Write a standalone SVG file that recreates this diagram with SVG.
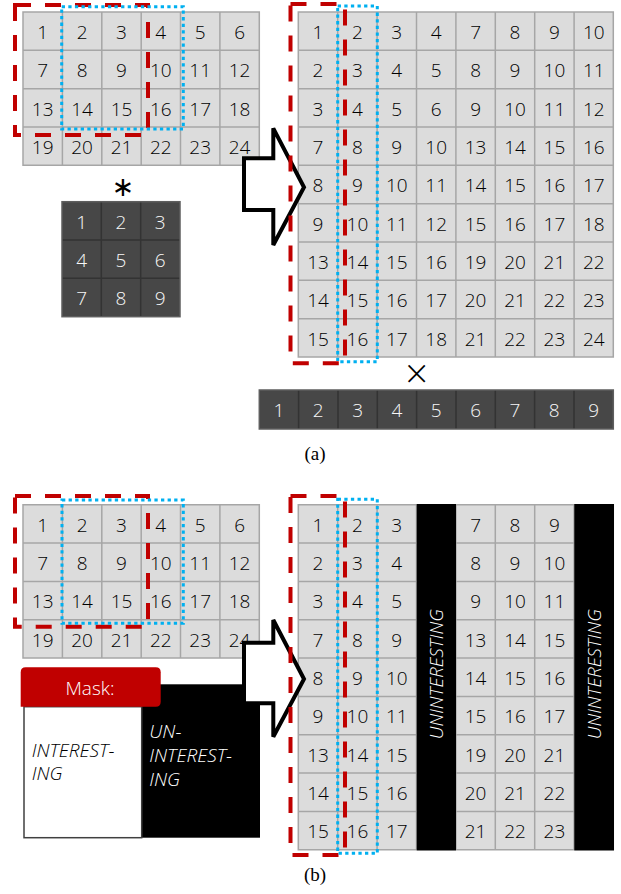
<svg xmlns="http://www.w3.org/2000/svg" width="621" height="894" viewBox="0 0 621 894">
<style>
.cell{fill:#dcdcdc}
.gl{fill:none;stroke:#a6a6a6;stroke-width:1.5}
.dk{fill:#474747}
.dl{fill:none;stroke:#333;stroke-width:1.5}
.do{fill:none;stroke:#5e5e5e;stroke-width:1.5}
.t{font-family:"Open Sans","Noto Sans",sans-serif;font-size:19px;font-weight:300;fill:#000;text-anchor:middle}
.tw{fill:#f7f7f7}
.it{font-family:"Open Sans","Noto Sans",sans-serif;font-size:19px;font-weight:300;font-style:italic}
.red{fill:none;stroke:#c00000;stroke-width:4;stroke-dasharray:16 14}
.blue{fill:none;stroke:#00b0f0;stroke-width:3;stroke-dasharray:3.3 3.3}
.arrow{fill:#fff;stroke:#000;stroke-width:4;stroke-linejoin:miter}
.lbl{font-family:"Liberation Serif","Times New Roman",serif;font-size:19px;fill:#000;text-anchor:middle}
</style>

<!-- ============ (a) ============ -->
<g id="a-input">
<rect class="cell" x="23" y="12" width="236.3" height="153.3"/>
<path class="gl" d="M23,12H259.3V165.3H23Z M62.4,12V165.3 M101.8,12V165.3 M141.2,12V165.3 M180.5,12V165.3 M219.9,12V165.3 M23,50.3H259.3 M23,88.7H259.3 M23,127H259.3"/>
<g class="t">
<text x="42.7" y="39">1</text><text x="82.1" y="39">2</text><text x="121.5" y="39">3</text><text x="160.8" y="39">4</text><text x="200.2" y="39">5</text><text x="239.6" y="39">6</text>
<text x="42.7" y="77.3">7</text><text x="82.1" y="77.3">8</text><text x="121.5" y="77.3">9</text><text x="160.8" y="77.3">10</text><text x="200.2" y="77.3">11</text><text x="239.6" y="77.3">12</text>
<text x="42.7" y="115.7">13</text><text x="82.1" y="115.7">14</text><text x="121.5" y="115.7">15</text><text x="160.8" y="115.7">16</text><text x="200.2" y="115.7">17</text><text x="239.6" y="115.7">18</text>
<text x="42.7" y="154">19</text><text x="82.1" y="154">20</text><text x="121.5" y="154">21</text><text x="160.8" y="154">22</text><text x="200.2" y="154">23</text><text x="239.6" y="154">24</text>
</g>
</g>

<g id="a-star">
<text x="123" y="195.5" style="font-family:'DejaVu Sans',sans-serif;font-size:27px;fill:#000;text-anchor:middle">∗</text>
</g>

<g id="a-kernel">
<rect class="dk" x="62" y="201.7" width="118" height="115"/>
<path class="dl" d="M101.3,201.7V316.7 M140.7,201.7V316.7 M62,240H180 M62,278.3H180"/>
<rect class="do" x="62" y="201.7" width="118" height="115"/>
<g class="t tw">
<text x="81.7" y="228.5">1</text><text x="121" y="228.5">2</text><text x="160.3" y="228.5">3</text>
<text x="81.7" y="266.8">4</text><text x="121" y="266.8">5</text><text x="160.3" y="266.8">6</text>
<text x="81.7" y="305.2">7</text><text x="121" y="305.2">8</text><text x="160.3" y="305.2">9</text>
</g>
</g>

<g id="a-matrix">
<rect class="cell" x="298.3" y="12" width="315" height="345"/>
<path class="gl" d="M298.3,12H613.3V357H298.3Z M337.7,12V357 M377.1,12V357 M416.5,12V357 M455.9,12V357 M495.3,12V357 M534.7,12V357 M574.1,12V357 M298.3,50.3H613.3 M298.3,88.7H613.3 M298.3,127H613.3 M298.3,165.3H613.3 M298.3,203.7H613.3 M298.3,242H613.3 M298.3,280.3H613.3 M298.3,318.7H613.3"/>
<g class="t">
<text x="318" y="39">1</text><text x="357.4" y="39">2</text><text x="396.8" y="39">3</text><text x="436.2" y="39">4</text><text x="475.6" y="39">7</text><text x="515" y="39">8</text><text x="554.4" y="39">9</text><text x="593.8" y="39">10</text>
<text x="318" y="77.3">2</text><text x="357.4" y="77.3">3</text><text x="396.8" y="77.3">4</text><text x="436.2" y="77.3">5</text><text x="475.6" y="77.3">8</text><text x="515" y="77.3">9</text><text x="554.4" y="77.3">10</text><text x="593.8" y="77.3">11</text>
<text x="318" y="115.7">3</text><text x="357.4" y="115.7">4</text><text x="396.8" y="115.7">5</text><text x="436.2" y="115.7">6</text><text x="475.6" y="115.7">9</text><text x="515" y="115.7">10</text><text x="554.4" y="115.7">11</text><text x="593.8" y="115.7">12</text>
<text x="318" y="154">7</text><text x="357.4" y="154">8</text><text x="396.8" y="154">9</text><text x="436.2" y="154">10</text><text x="475.6" y="154">13</text><text x="515" y="154">14</text><text x="554.4" y="154">15</text><text x="593.8" y="154">16</text>
<text x="318" y="192.3">8</text><text x="357.4" y="192.3">9</text><text x="396.8" y="192.3">10</text><text x="436.2" y="192.3">11</text><text x="475.6" y="192.3">14</text><text x="515" y="192.3">15</text><text x="554.4" y="192.3">16</text><text x="593.8" y="192.3">17</text>
<text x="318" y="230.7">9</text><text x="357.4" y="230.7">10</text><text x="396.8" y="230.7">11</text><text x="436.2" y="230.7">12</text><text x="475.6" y="230.7">15</text><text x="515" y="230.7">16</text><text x="554.4" y="230.7">17</text><text x="593.8" y="230.7">18</text>
<text x="318" y="269">13</text><text x="357.4" y="269">14</text><text x="396.8" y="269">15</text><text x="436.2" y="269">16</text><text x="475.6" y="269">19</text><text x="515" y="269">20</text><text x="554.4" y="269">21</text><text x="593.8" y="269">22</text>
<text x="318" y="307.3">14</text><text x="357.4" y="307.3">15</text><text x="396.8" y="307.3">16</text><text x="436.2" y="307.3">17</text><text x="475.6" y="307.3">20</text><text x="515" y="307.3">21</text><text x="554.4" y="307.3">22</text><text x="593.8" y="307.3">23</text>
<text x="318" y="345.7">15</text><text x="357.4" y="345.7">16</text><text x="396.8" y="345.7">17</text><text x="436.2" y="345.7">18</text><text x="475.6" y="345.7">21</text><text x="515" y="345.7">22</text><text x="554.4" y="345.7">23</text><text x="593.8" y="345.7">24</text>
</g>
</g>

<g id="a-times">
<text class="t" x="416.7" y="388" style="font-size:40px;fill:#000">×</text>
</g>

<g id="a-kernel-row">
<rect class="dk" x="259.3" y="390" width="354" height="39"/>
<path class="dl" d="M298.6,390V429 M338,390V429 M377.3,390V429 M416.6,390V429 M456,390V429 M495.3,390V429 M534.6,390V429 M574,390V429"/>
<rect class="do" x="259.3" y="390" width="354" height="39"/>
<g class="t tw">
<text x="279" y="416.7">1</text><text x="318.3" y="416.7">2</text><text x="357.6" y="416.7">3</text><text x="397" y="416.7">4</text><text x="436.3" y="416.7">5</text><text x="475.6" y="416.7">6</text><text x="515" y="416.7">7</text><text x="554.3" y="416.7">8</text><text x="593.6" y="416.7">9</text>
</g>
</g>

<g id="a-label"><text class="lbl" x="315" y="459.5">(a)</text></g>

<!-- ============ (b) ============ -->
<g id="b-input" transform="translate(0,492.7)">
<rect class="cell" x="23" y="12" width="236.3" height="153.3"/>
<path class="gl" d="M23,12H259.3V165.3H23Z M62.4,12V165.3 M101.8,12V165.3 M141.2,12V165.3 M180.5,12V165.3 M219.9,12V165.3 M23,50.3H259.3 M23,88.7H259.3 M23,127H259.3"/>
<g class="t">
<text x="42.7" y="39">1</text><text x="82.1" y="39">2</text><text x="121.5" y="39">3</text><text x="160.8" y="39">4</text><text x="200.2" y="39">5</text><text x="239.6" y="39">6</text>
<text x="42.7" y="77.3">7</text><text x="82.1" y="77.3">8</text><text x="121.5" y="77.3">9</text><text x="160.8" y="77.3">10</text><text x="200.2" y="77.3">11</text><text x="239.6" y="77.3">12</text>
<text x="42.7" y="115.7">13</text><text x="82.1" y="115.7">14</text><text x="121.5" y="115.7">15</text><text x="160.8" y="115.7">16</text><text x="200.2" y="115.7">17</text><text x="239.6" y="115.7">18</text>
<text x="42.7" y="154">19</text><text x="82.1" y="154">20</text><text x="121.5" y="154">21</text><text x="160.8" y="154">22</text><text x="200.2" y="154">23</text><text x="239.6" y="154">24</text>
</g>
</g>

<g id="b-matrix" transform="translate(0,492.7)">
<rect class="cell" x="298.3" y="12" width="315" height="345"/>
<path class="gl" d="M298.3,12H613.3V357H298.3Z M337.7,12V357 M377.1,12V357 M416.5,12V357 M455.9,12V357 M495.3,12V357 M534.7,12V357 M574.1,12V357 M298.3,50.3H613.3 M298.3,88.7H613.3 M298.3,127H613.3 M298.3,165.3H613.3 M298.3,203.7H613.3 M298.3,242H613.3 M298.3,280.3H613.3 M298.3,318.7H613.3"/>
<rect x="416.7" y="11.3" width="39.3" height="346.4" fill="#000"/>
<rect x="574.3" y="11.3" width="39.7" height="346.4" fill="#000"/>
<g class="t">
<text x="318" y="39">1</text><text x="357.4" y="39">2</text><text x="396.8" y="39">3</text><text x="475.6" y="39">7</text><text x="515" y="39">8</text><text x="554.4" y="39">9</text>
<text x="318" y="77.3">2</text><text x="357.4" y="77.3">3</text><text x="396.8" y="77.3">4</text><text x="475.6" y="77.3">8</text><text x="515" y="77.3">9</text><text x="554.4" y="77.3">10</text>
<text x="318" y="115.7">3</text><text x="357.4" y="115.7">4</text><text x="396.8" y="115.7">5</text><text x="475.6" y="115.7">9</text><text x="515" y="115.7">10</text><text x="554.4" y="115.7">11</text>
<text x="318" y="154">7</text><text x="357.4" y="154">8</text><text x="396.8" y="154">9</text><text x="475.6" y="154">13</text><text x="515" y="154">14</text><text x="554.4" y="154">15</text>
<text x="318" y="192.3">8</text><text x="357.4" y="192.3">9</text><text x="396.8" y="192.3">10</text><text x="475.6" y="192.3">14</text><text x="515" y="192.3">15</text><text x="554.4" y="192.3">16</text>
<text x="318" y="230.7">9</text><text x="357.4" y="230.7">10</text><text x="396.8" y="230.7">11</text><text x="475.6" y="230.7">15</text><text x="515" y="230.7">16</text><text x="554.4" y="230.7">17</text>
<text x="318" y="269">13</text><text x="357.4" y="269">14</text><text x="396.8" y="269">15</text><text x="475.6" y="269">19</text><text x="515" y="269">20</text><text x="554.4" y="269">21</text>
<text x="318" y="307.3">14</text><text x="357.4" y="307.3">15</text><text x="396.8" y="307.3">16</text><text x="475.6" y="307.3">20</text><text x="515" y="307.3">21</text><text x="554.4" y="307.3">22</text>
<text x="318" y="345.7">15</text><text x="357.4" y="345.7">16</text><text x="396.8" y="345.7">17</text><text x="475.6" y="345.7">21</text><text x="515" y="345.7">22</text><text x="554.4" y="345.7">23</text>
</g>
<g class="it" fill="#fff" text-anchor="middle" style="font-size:18.5px">
<text transform="translate(443.3,181.5) rotate(-90)">UNINTERESTING</text>
<text transform="translate(601,181.5) rotate(-90)">UNINTERESTING</text>
</g>
</g>

<g id="b-mask">
<rect x="141.7" y="684.3" width="118.3" height="153.4" fill="#000"/>
<rect x="24" y="706.7" width="117.7" height="131" fill="#fff" stroke="#404040" stroke-width="1.5"/>
<path d="M20.7,706.7V672.3Q20.7,667.3 25.7,667.3H155.7Q160.7,667.3 160.7,672.3V701.7Q160.7,706.7 155.7,706.7Z" fill="#c00000"/>
<text class="t" x="90" y="695" style="fill:#fff">Mask:</text>
<g class="it" fill="#000">
<text x="31.7" y="756.7">INTEREST-</text>
<text x="31.7" y="780.3">ING</text>
</g>
<g class="it" fill="#fff">
<text x="149.3" y="738">UN-</text>
<text x="149.3" y="761.7">INTEREST-</text>
<text x="149.3" y="786">ING</text>
</g>
</g>

<g id="b-label"><text class="lbl" x="315" y="880.5">(b)</text></g>

<!-- ============ connectors / overlays ============ -->
<g id="connectors">
<path class="arrow" d="M244,158.3H273.3V128.3L304,187.3L273.3,245V210H244Z"/>
<path class="arrow" d="M244,642.7H273.3V620L304,679L273.3,736.7V703.3H244Z"/>
<rect class="red" x="15" y="5" width="133" height="130"/>
<rect class="blue" x="61.7" y="6.7" width="121.6" height="122.3"/>
<rect class="red" x="290.5" y="4" width="54.5" height="359.3"/>
<rect class="blue" x="337.7" y="6" width="39.6" height="355.7"/>
<rect class="red" x="15" y="496" width="133" height="130.7"/>
<rect class="blue" x="62" y="500" width="121.3" height="123.3"/>
<rect class="red" x="290.5" y="496" width="54.5" height="359"/>
<rect class="blue" x="337.7" y="499.3" width="39.6" height="354"/>
</g>
</svg>
